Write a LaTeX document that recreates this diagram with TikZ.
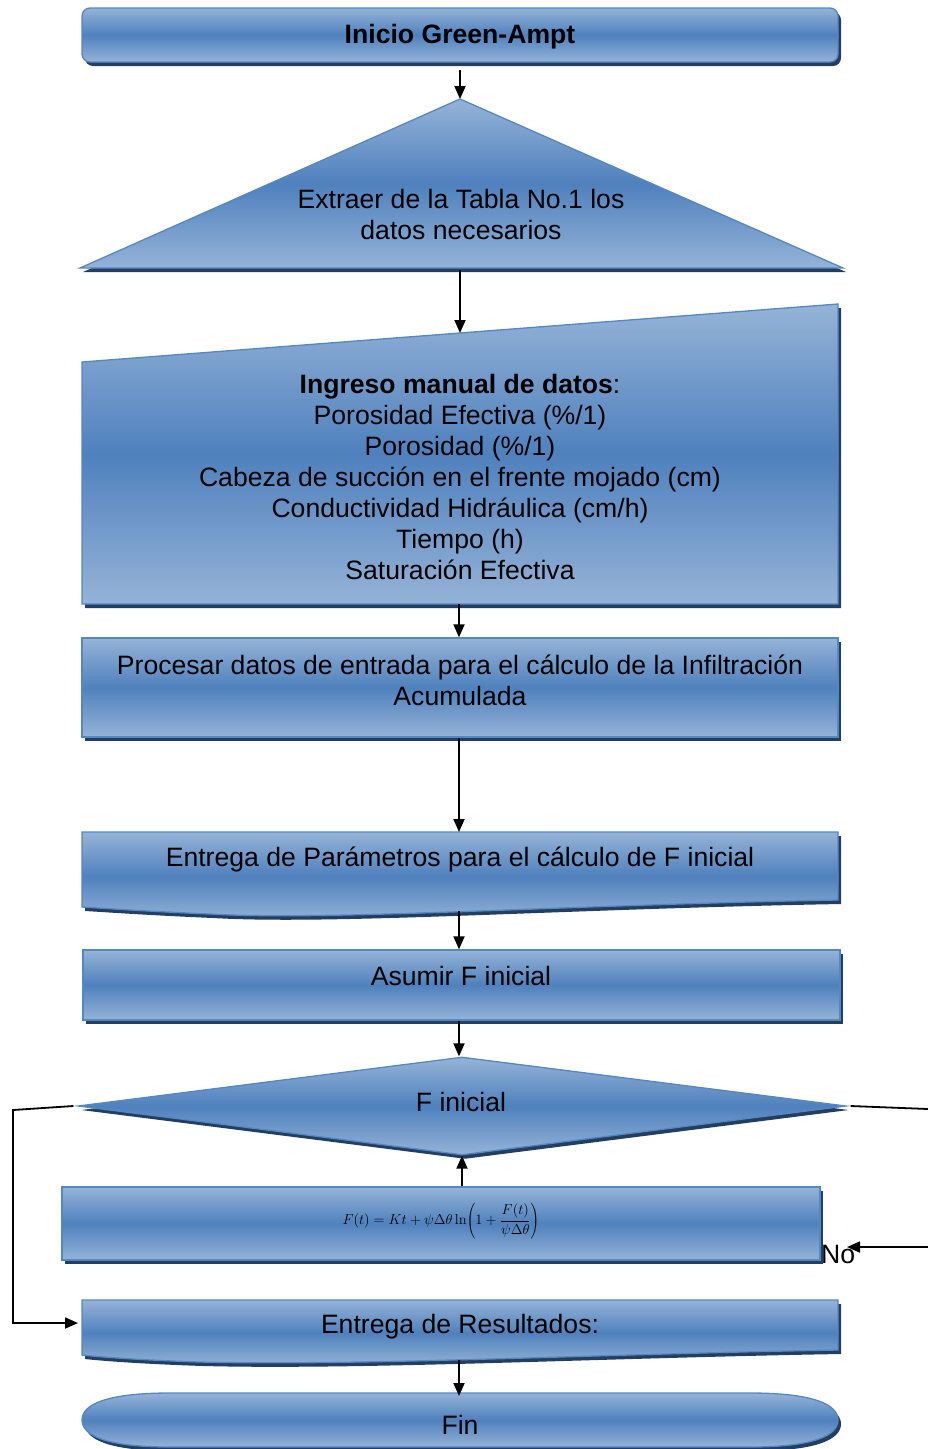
\documentclass[tikz,border=0pt]{standalone}
\usepackage[no-math]{fontspec}
\setmainfont{Liberation Sans}
\usetikzlibrary{arrows.meta,shapes.geometric,shadows,calc}

\definecolor{boxLight}{RGB}{149,179,215}
\definecolor{boxMid}{RGB}{79,129,189}
\definecolor{boxEdge}{RGB}{84,135,198}
\definecolor{boxShadow}{RGB}{36,62,96}

\tikzset{
  flowbox/.style={draw=boxEdge, line width=1.3pt,
    top color=boxLight, bottom color=boxLight, middle color=boxMid,
    drop shadow={shadow xshift=3pt, shadow yshift=-4pt, fill=boxShadow, opacity=1}},
  boxtext/.style={font=\fontsize{26.6}{31}\selectfont, align=center, text=black, inner sep=0pt},
  link/.style={line width=1.8pt, draw=black},
  arrowlink/.style={link, -{Triangle[length=13pt,width=11pt]}}
}

\begin{document}
\begin{tikzpicture}[x=1pt,y=-1pt]
\useasboundingbox (0,0) rectangle (928,1449);

% start terminal
\node[flowbox, rounded corners=8pt, minimum width=756pt, minimum height=54pt, inner sep=0pt]
  (start) at (460,35) {};
\node[boxtext, font=\fontsize{26.6}{31}\selectfont\bfseries] (start-t) at (460,37) {Inicio Green-Ampt};

% extraction triangle
\path[flowbox] (460,99) -- (843,268) -- (80,268) -- cycle;
\coordinate (tri-apex) at (460,99);
\coordinate (tri-base) at (460,270);
\node[boxtext] (tri-t) at (461,214) {Extraer de la Tabla No.1 los\\datos necesarios};

% manual input
\path[flowbox] (82,362) -- (838,304) -- (838,604) -- (82,604) -- cycle;
\coordinate (man-top) at (460,333);
\coordinate (man-bot) at (459,604);
\node[boxtext] (man-t) at (460,477) {\textbf{Ingreso manual de datos}:\\
  Porosidad Efectiva (\%/1)\\Porosidad (\%/1)\\
  Cabeza de succión en el frente mojado (cm)\\
  Conductividad Hidráulica (cm/h)\\Tiempo (h)\\Saturación Efectiva};

% processing step
\node[flowbox, minimum width=756pt, minimum height=99pt, inner sep=0pt]
  (proc) at (460,687.5) {};
\node[boxtext] (proc-t) at (460,680) {Procesar datos de entrada para el cálculo de la Infiltración\\Acumulada};

% parameters document
\path[flowbox] (82,832) -- (838,832) -- (838,900)
  .. controls (560,905) and (330,921) .. (210,914)
  .. controls (140,911) and (100,908) .. (82,907) -- cycle;
\coordinate (par-top) at (459,832);
\coordinate (par-bot) at (459,911);
\node[boxtext] (par-t) at (460,859) {Entrega de Parámetros para el cálculo de F inicial};

% assume initial F
\node[flowbox, minimum width=757pt, minimum height=70pt, inner sep=0pt]
  (asum) at (461.5,985) {};
\node[boxtext] (asum-t) at (461,976) {Asumir F inicial};

% decision
\node[flowbox, diamond, minimum width=768pt, minimum height=98pt, inner sep=0pt]
  (dec) at (462,1106) {};
\node[boxtext] (dec-t) at (461,1102) {F inicial};

% Green-Ampt equation
\node[flowbox, minimum width=758pt, minimum height=73pt, inner sep=0pt]
  (eq) at (441,1223.5) {};
\node[inner sep=0pt, font=\fontsize{14.5}{17}\selectfont] (eq-t) at (441,1221)
  {$F(t)=Kt+\psi\Delta\theta\ln\!\left(1+\displaystyle\frac{F(t)}{\psi\Delta\theta}\right)$};

% results document
\path[flowbox] (82,1300) -- (838,1300) -- (838,1350)
  .. controls (600,1354) and (360,1366) .. (200,1362)
  .. controls (140,1360) and (100,1357) .. (82,1355) -- cycle;
\coordinate (res-in) at (78,1323);
\coordinate (res-bot) at (459,1360);
\node[boxtext] (res-t) at (460,1327) {Entrega de Resultados:};

% end terminal
\path[flowbox] (170,1393) -- (750,1393)
  .. controls (815,1393) and (838,1405) .. (838,1420)
  .. controls (838,1435) and (815,1447) .. (750,1447) -- (170,1447)
  .. controls (105,1447) and (82,1435) .. (82,1420)
  .. controls (82,1405) and (105,1393) .. (170,1393) -- cycle;
\coordinate (fin-top) at (459,1396);
\node[boxtext] (fin-t) at (460,1425) {Fin};

% connectors
\draw[arrowlink] ([yshift=-7pt]start.south) -- (tri-apex);
\draw[arrowlink] (tri-base) -- (man-top);
\draw[arrowlink] (man-bot) -- (proc.north -| man-bot);
\draw[arrowlink] (proc.south -| man-bot) -- (par-top);
\draw[arrowlink] (par-bot) -- (asum.north -| par-bot);
\draw[arrowlink] (asum.south -| par-bot) -- (dec.north -| par-bot);
\draw[arrowlink] (eq.north -| dec.south) -- (dec.south);
\draw[arrowlink] (res-bot) -- (fin-top);

% yes branch to the results
\coordinate (loop-l) at (13,1110);
\draw[arrowlink] ([xshift=-4pt]dec.west) -- (loop-l) |- (res-in);

% no branch back to the equation
\coordinate (no-out) at (928,1109);
\coordinate (no-in) at (928,1247);
\coordinate (no-end) at (847,1247);
\draw[link] ([xshift=4pt]dec.east) -- (no-out);
\node[boxtext, anchor=west] (no-t) at (821,1254) {No};
\draw[arrowlink] (no-in) -- (no-end);
\end{tikzpicture}
\end{document}
